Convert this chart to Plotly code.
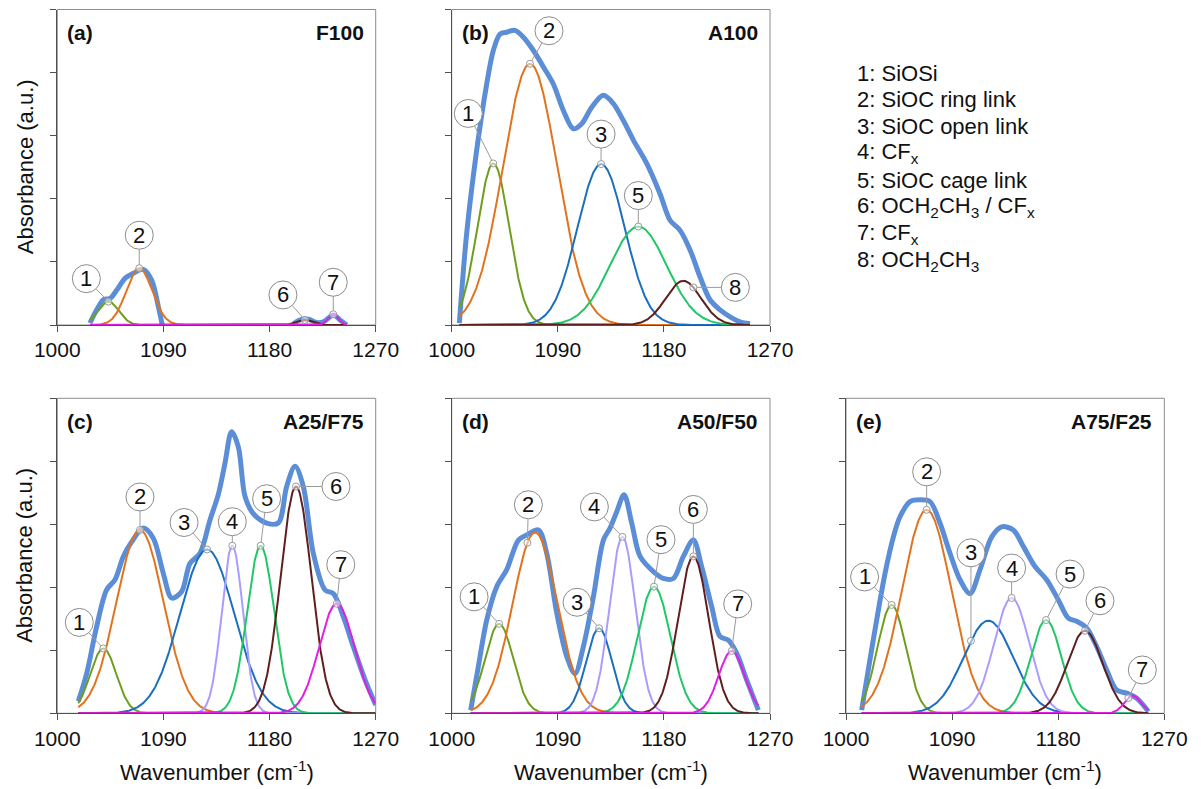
import numpy as np
import plotly.graph_objects as go

FONT = "Liberation Sans, Arial, sans-serif"

# ---------------- data ----------------
panel_tags = ["(a)", "(b)", "(c)", "(d)", "(e)"]
panel_names = ["F100", "A100", "A25/F75", "A50/F50", "A75/F25"]

x_tick_vals = [1000, 1090, 1180, 1270]
x_tick_text = ["1000", "1090", "1180", "1270"]

legend_lines = [
    "1: SiOSi",
    "2: SiOC ring link",
    "3: SiOC open link",
    "4: CF<sub>x</sub>",
    "5: SiOC cage link",
    "6: OCH<sub>2</sub>CH<sub>3</sub> / CF<sub>x</sub>",
    "7: CF<sub>x</sub>",
    "8: OCH<sub>2</sub>CH<sub>3</sub>",
]

# measured spectra (thick blue line)
a_wn = [1027.7, 1033.4, 1039.0, 1044.7, 1050.3, 1057.4, 1064.5, 1072.9, 1080.0, 1085.7, 1089.0,
        None, 1200.2, 1205.8, 1212.9, 1220.0, 1225.6, 1234.1, 1239.7, 1245.4]
a_abs = [0.03, 0.24, 0.40, 0.42, 0.55, 0.74, 0.82, 0.88, 0.71, 0.29, 0.0,
         None, 0.02, 0.08, 0.09, 0.04, 0.05, 0.16, 0.08, 0.0]

b_wn = [1006.5, 1012.7, 1021.2, 1029.7, 1035.3, 1041.0, 1046.7, 1053.7, 1060.8, 1069.3, 1077.8,
        1086.2, 1094.7, 1103.2, 1110.3, 1118.8, 1128.6, 1137.1, 1145.6, 1154.1, 1165.4, 1176.7,
        1185.2, 1193.7, 1202.2, 1210.7, 1219.1, 1227.6, 1236.1, 1244.6, 1253.0]
b_abs = [0.03, 1.45, 2.77, 3.82, 4.35, 4.61, 4.64, 4.67, 4.56, 4.35, 4.09,
         3.82, 3.40, 3.11, 3.19, 3.45, 3.64, 3.51, 3.24, 2.93, 2.56, 2.08,
         1.66, 1.50, 1.19, 0.76, 0.40, 0.24, 0.13, 0.05, 0.02]

c_wn = [1017.8, 1024.9, 1033.4, 1041.8, 1048.9, 1056.0, 1063.0, 1072.9, 1081.4, 1089.9, 1097.0,
        1105.4, 1112.5, 1121.0, 1129.5, 1136.5, 1142.2, 1147.8, 1153.5, 1159.2, 1166.2, 1177.5,
        1187.4, 1194.5, 1201.6, 1208.6, 1217.1, 1227.0, 1234.1, 1242.6, 1251.0, 1261.0, 1270.0]
c_abs = [0.19, 0.63, 1.38, 1.96, 2.12, 2.49, 2.72, 2.94, 2.78, 2.22, 1.83,
         1.93, 2.38, 2.54, 3.07, 3.47, 3.97, 4.47, 4.23, 3.44, 3.17, 3.02,
         3.02, 3.60, 3.92, 3.60, 2.54, 1.96, 1.90, 1.53, 1.06, 0.53, 0.13]

d_wn = [1016.1, 1022.6, 1029.7, 1038.2, 1046.7, 1056.6, 1063.6, 1073.6, 1080.6, 1089.1, 1097.6,
        1104.6, 1111.7, 1120.2, 1128.7, 1134.3, 1140.0, 1146.2, 1152.7, 1159.8, 1171.1, 1179.6,
        1188.0, 1196.5, 1205.0, 1212.0, 1220.6, 1227.6, 1234.7, 1241.8, 1250.2, 1260.1]
d_abs = [0.05, 0.74, 1.48, 2.01, 2.28, 2.75, 2.83, 2.91, 2.54, 1.59, 0.90,
         0.63, 1.06, 1.85, 2.75, 2.94, 3.20, 3.47, 3.02, 2.49, 2.25, 2.14,
         2.14, 2.49, 2.75, 2.33, 1.69, 1.22, 1.16, 0.95, 0.53, 0.05]

e_wn = [1013.3, 1018.9, 1026.0, 1033.1, 1040.2, 1045.8, 1054.3, 1062.8, 1071.3, 1079.7, 1088.2,
        1096.7, 1105.2, 1113.7, 1123.6, 1132.0, 1141.9, 1150.4, 1160.3, 1170.2, 1180.1, 1188.6,
        1195.7, 1204.2, 1212.6, 1221.1, 1229.6, 1238.1, 1246.6, 1256.5]
e_abs = [0.05, 0.69, 1.48, 2.22, 2.80, 3.12, 3.36, 3.39, 3.36, 3.02, 2.54,
         2.12, 1.90, 2.28, 2.80, 2.96, 2.91, 2.65, 2.33, 2.12, 1.80, 1.51,
         1.46, 1.35, 1.06, 0.69, 0.37, 0.32, 0.24, 0.03]

# fitted Gaussian components: peak number, centre (cm-1), height (a.u.), sigma (cm-1)
a_peak_ids = [1, 2, 6, 7]
a_centers = [1043.3, 1069.5, 1210.0, 1234.0]
a_heights = [0.37, 0.90, 0.08, 0.17]
a_sigmas = [8.8, 10.9, 7.0, 4.5]
a_label_x = [1043.3, 1069.5, 1210.0, 1234.0]

b_peak_ids = [1, 2, 3, 5, 8]
b_centers = [1035.3, 1066.4, 1126.7, 1158.3, 1196.5]
b_heights = [2.56, 4.14, 2.55, 1.56, 0.70]
b_sigmas = [13.5, 23.0, 20.0, 24.0, 15.0]
b_label_x = [1035.3, 1066.4, 1126.7, 1158.3, 1205.0]

c_peak_ids = [1, 2, 3, 4, 5, 6, 7]
c_centers = [1039.0, 1070.1, 1127.0, 1148.4, 1172.4, 1202.4, 1237.0]
c_heights = [1.03, 2.91, 2.60, 2.66, 2.66, 3.60, 1.74]
c_sigmas = [11.0, 20.0, 23.0, 9.0, 11.5, 13.0, 15.0]
c_label_x = [1039.0, 1070.1, 1127.0, 1148.4, 1172.4, 1202.4, 1237.0]

d_peak_ids = [1, 2, 3, 4, 5, 6, 7]
d_centers = [1040.2, 1070.7, 1125.0, 1144.8, 1171.6, 1205.0, 1237.5]
d_heights = [1.42, 2.87, 1.35, 2.80, 2.01, 2.49, 0.99]
d_sigmas = [12.0, 19.0, 11.0, 11.0, 14.0, 13.0, 11.0]
d_label_x = [1040.2, 1064.2, 1125.0, 1144.8, 1171.6, 1205.0, 1237.5]

e_peak_ids = [1, 2, 3, 4, 5, 6, 7]
e_centers = [1038.7, 1068.4, 1120.7, 1140.5, 1169.7, 1202.7, 1243.2]
e_heights = [1.72, 3.23, 1.47, 1.83, 1.48, 1.31, 0.28]
e_sigmas = [12.0, 21.0, 21.0, 15.0, 13.0, 15.0, 7.0]
e_label_x = [1038.7, 1068.4, 1106.0, 1140.5, 1169.7, 1202.7, 1239.5]

# ---------------- styles / layout ----------------
peak_colors = {1: "#6F9E1F", 2: "#E2731C", 3: "#1B6FBE", 4: "#A89DFF",
               5: "#20C865", 6: "#5F1F1F", 7: "#E21EE2", 8: "#5F1F1F"}
measured_color = "#5B8ED6"

# callout offsets in pixels (dx right, dy down) from the marker to the circle centre
a_offsets = [(-22, -23), (0, -33), (-22, -25), (0, -32)]
b_offsets = [(-25, -50), (19, -33), (0, -30), (0, -31), (42, 0)]
c_offsets = [(-24, -26), (0, -33), (-23, -27), (0, -24), (6, -47), (40, 0), (4, -39)]
d_offsets = [(-25, -27), (1, -38), (-22, -26), (-28, -30), (7, -47), (0, -47), (6, -47)]
e_offsets = [(-27, -28), (0, -38), (0, -88), (0, -30), (24, -46), (15, -30), (14, -28)]

panels = [
    (a_wn, a_abs, a_peak_ids, a_centers, a_heights, a_sigmas, a_label_x, a_offsets),
    (b_wn, b_abs, b_peak_ids, b_centers, b_heights, b_sigmas, b_label_x, b_offsets),
    (c_wn, c_abs, c_peak_ids, c_centers, c_heights, c_sigmas, c_label_x, c_offsets),
    (d_wn, d_abs, d_peak_ids, d_centers, d_heights, d_sigmas, d_label_x, d_offsets),
    (e_wn, e_abs, e_peak_ids, e_centers, e_heights, e_sigmas, e_label_x, e_offsets),
]

W, H = 1201, 789
OFF = 8.0  # page body margin offset


def px(v):
    return (v - OFF) / W


def py(v):
    return 1 - (v - OFF) / H


x_domains = [[px(57.3), px(375.7)], [px(451.7), px(770.0)], [px(57.3), px(375.7)],
             [px(451.7), px(770.0)], [px(846.0), px(1164.3)]]
top_row = [py(325.0), py(9.5)]
bot_row = [py(713.3), py(398.3)]
y_domains = [top_row, top_row, bot_row, bot_row, bot_row]


def gauss(x, c, h, s):
    return h * np.exp(-((x - c) ** 2) / (2.0 * s * s))


fig = go.Figure()
shapes = []
annotations = []
R = 14  # callout circle radius (px)

for i, (wn, ab, pids, cens, hts, sigs, lab_x, offs) in enumerate(panels):
    xa = "x" if i == 0 else f"x{i + 1}"
    ya = "y" if i == 0 else f"y{i + 1}"
    xd = f"{xa} domain"
    yd = f"{ya} domain"

    # measured spectrum
    fig.add_trace(go.Scatter(x=wn, y=ab, mode="lines", xaxis=xa, yaxis=ya,
                             line=dict(color=measured_color, width=5, shape="spline", smoothing=0.9),
                             connectgaps=False, hoverinfo="skip", showlegend=False))

    valid = [v for v in wn if v is not None]
    grid = np.arange(min(valid), max(valid) + 0.01, 0.5)
    for pid, c, h, s in zip(pids, cens, hts, sigs):
        fig.add_trace(go.Scatter(x=grid, y=gauss(grid, c, h, s), mode="lines", xaxis=xa, yaxis=ya,
                                 line=dict(color=peak_colors[pid], width=2),
                                 hoverinfo="skip", showlegend=False))

    # callouts
    mx_list, my_list = [], []
    for pid, c, h, s, lx, (dx, dy) in zip(pids, cens, hts, sigs, lab_x, offs):
        my = float(gauss(lx, c, h, s))
        mx_list.append(lx)
        my_list.append(my)
        L = (dx * dx + dy * dy) ** 0.5
        ux, uy = dx / L, dy / L
        shapes.append(dict(type="line", xref=xa, yref=ya, xsizemode="pixel", ysizemode="pixel",
                           xanchor=lx, yanchor=my,
                           x0=ux * 3.5, y0=-uy * 3.5, x1=dx - ux * R, y1=-(dy - uy * R),
                           line=dict(color="#9a9a9a", width=1), layer="above"))
        shapes.append(dict(type="circle", xref=xa, yref=ya, xsizemode="pixel", ysizemode="pixel",
                           xanchor=lx, yanchor=my,
                           x0=dx - R, x1=dx + R, y0=-dy - R, y1=-dy + R,
                           fillcolor="white", line=dict(color="#8c8c8c", width=1), layer="above"))
        annotations.append(dict(x=lx, y=my, xref=xa, yref=ya, xshift=dx, yshift=-dy,
                                text=str(pid), showarrow=False, xanchor="center", yanchor="middle",
                                font=dict(family=FONT, size=22, color="#111111")))
    fig.add_trace(go.Scatter(x=mx_list, y=my_list, mode="markers", xaxis=xa, yaxis=ya,
                             marker=dict(symbol="circle", size=7, color="rgba(255,255,255,0.5)",
                                         line=dict(color="#9a9a9a", width=1)),
                             hoverinfo="skip", showlegend=False))

    # frame (top/right lighter)
    shapes.append(dict(type="rect", xref=xd, yref=yd, x0=0, x1=1, y0=0, y1=1,
                       line=dict(color="#8c8c8c", width=1), layer="below"))

    # panel tag and sample name
    annotations.append(dict(x=0, y=1, xref=xd, yref=yd, xshift=8, yshift=-23,
                            text=f"<b>{panel_tags[i]}</b>", showarrow=False,
                            xanchor="left", yanchor="middle",
                            font=dict(family=FONT, size=21, color="#111111")))
    annotations.append(dict(x=1, y=1, xref=xd, yref=yd, xshift=-10, yshift=-23,
                            text=f"<b>{panel_names[i]}</b>", showarrow=False,
                            xanchor="right", yanchor="middle",
                            font=dict(family=FONT, size=21, color="#111111")))

    # axes
    ax_common = dict(showgrid=False, zeroline=False, showline=True, linecolor="#505050",
                     linewidth=1, ticks="outside", ticklen=6, tickcolor="#505050",
                     mirror=False, automargin=False)
    fig.update_layout(**{
        ("xaxis" if i == 0 else f"xaxis{i + 1}"): dict(
            domain=x_domains[i], anchor=ya, range=[1000, 1270],
            tickmode="array", tickvals=x_tick_vals, ticktext=x_tick_text,
            tickfont=dict(family=FONT, size=21, color="#111111"), **ax_common),
        ("yaxis" if i == 0 else f"yaxis{i + 1}"): dict(
            domain=y_domains[i], anchor=xa, range=[0, 5],
            tickmode="array", tickvals=[0, 1, 2, 3, 4, 5], showticklabels=False, **ax_common),
    })

    if i in (2, 3, 4):
        annotations.append(dict(x=0.5, y=py(771.0), xref=xd, yref="paper",
                                text="Wavenumber (cm<sup>-1</sup>)", showarrow=False,
                                xanchor="center", yanchor="middle",
                                font=dict(family=FONT, size=22, color="#111111")))
    if i in (0, 2):
        yc = 0.5 * (y_domains[i][0] + y_domains[i][1])
        annotations.append(dict(x=px(25.0), y=yc, xref="paper", yref="paper",
                                text="Absorbance (a.u.)", textangle=-90, showarrow=False,
                                xanchor="center", yanchor="middle",
                                font=dict(family=FONT, size=22, color="#111111")))

# description list (top right)
for k, line in enumerate(legend_lines):
    yc = 73.0 + k * 26.8
    annotations.append(dict(x=px(855.0), y=py(yc), xref="paper", yref="paper",
                            text=line, showarrow=False, xanchor="left", yanchor="middle",
                            font=dict(family=FONT, size=22, color="#111111")))

fig.update_layout(width=W, height=H, autosize=False,
                  margin=dict(l=0, r=0, t=0, b=0, pad=0, autoexpand=False),
                  paper_bgcolor="white", plot_bgcolor="white",
                  showlegend=False, shapes=shapes, annotations=annotations)

fig.write_html("out.html")
